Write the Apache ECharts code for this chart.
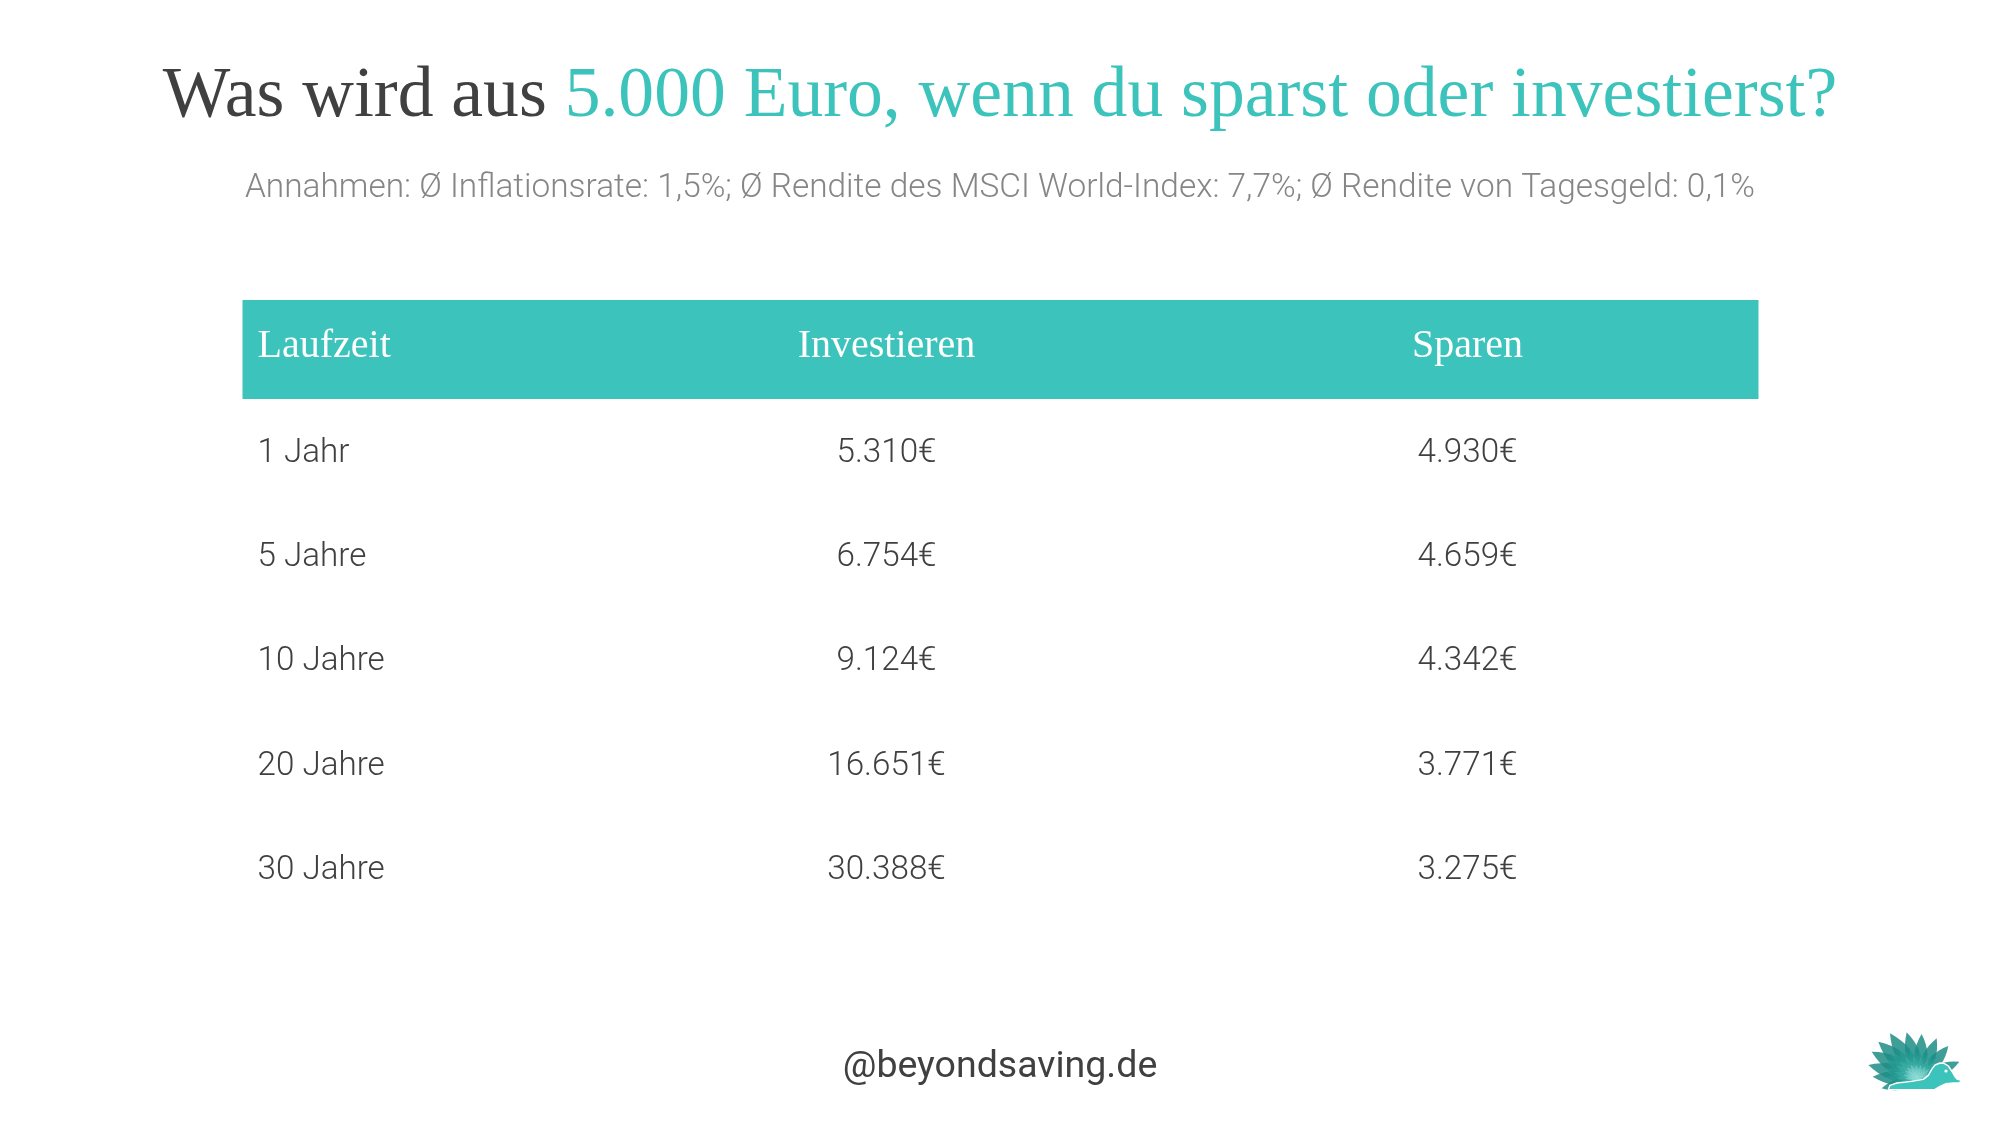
<!DOCTYPE html>
<html><head><meta charset="utf-8">
<style>html,body{margin:0;padding:0;background:#fff}#c{width:2000px;height:1125px}</style>
<script src="https://cdn.jsdelivr.net/npm/echarts@6/dist/echarts.min.js"></script>
</head><body><div id="c"></div>
<script>
const titleDark = 'Was wird aus ';
const titleTeal = '5.000 Euro, wenn du sparst oder investierst?';
const subtitle = 'Annahmen: Ø Inflationsrate: 1,5%; Ø Rendite des MSCI World-Index: 7,7%; Ø Rendite von Tagesgeld: 0,1%';
const footer = '@beyondsaving.de';
const columns = ['Laufzeit', 'Investieren', 'Sparen'];
const terms = ['1 Jahr', '5 Jahre', '10 Jahre', '20 Jahre', '30 Jahre'];
const invest = ['5.310€', '6.754€', '9.124€', '16.651€', '30.388€'];
const save = ['4.930€', '4.659€', '4.342€', '3.771€', '3.275€'];

const TEAL = '#3cc3bb', DARK = '#404040', GREY = '#868686';
const rows = ['header', ...terms];
const cells = [];
columns.forEach((c, i) => cells.push([i, 0, c]));
terms.forEach((t, r) => {
  cells.push([0, r + 1, t]);
  cells.push([1, r + 1, invest[r]]);
  cells.push([2, r + 1, save[r]]);
});

// hedgehog logo (decoration), in zoom-crop units scaled to page
const tips = [[125,235],[98,200],[85,165],[95,125],[115,95],[150,70],[200,67],[245,72],[290,85],[325,108],[358,155]];
const base = [240, 208];
const LX = 1840, LY = 1010, S = 1 / 3;
const P = (x, y) => [LX + x * S, LY + y * S];
function leaf(a, b, w) {
  const dx = b[0] - a[0], dy = b[1] - a[1];
  const nx = -dy * w, ny = dx * w, pts = [];
  const mx = a[0] + dx * 0.45, my = a[1] + dy * 0.45;
  for (let i = 0; i <= 10; i++) { const t = i / 10, u = 1 - t;
    pts.push(P(u*u*a[0] + 2*u*t*(mx+nx) + t*t*b[0], u*u*a[1] + 2*u*t*(my+ny) + t*t*b[1])); }
  for (let i = 9; i > 0; i--) { const t = i / 10, u = 1 - t;
    pts.push(P(u*u*a[0] + 2*u*t*(mx-nx) + t*t*b[0], u*u*a[1] + 2*u*t*(my-ny) + t*t*b[1])); }
  return pts;
}
const logo = [];
tips.forEach(t => {
  logo.push({ type: 'polygon', z: 5, shape: { points: leaf(base, t, 0.3) }, style: { fill: '#1d8d85', opacity: 0.85 } });
});
[0.72, 0.5, 0.32].forEach((k, j) => tips.forEach(t => {
  const t2 = [base[0] + (t[0]-base[0]) * k, base[1] + (t[1]-base[1]) * k];
  logo.push({ type: 'polygon', z: 6 + j, shape: { points: leaf(base, t2, 0.24) }, style: { fill: ['#2fa49b', '#48b8af', '#9be3dd'][j], opacity: 0.45 } });
}));
const bodyOutline = [[145,238],[150,226],[170,219],[215,214],[250,208],[265,196],[275,178],[285,165],[300,159],[312,160],[325,168],[335,183],[345,200],[352,208],[365,211],[358,219],[340,219],[318,221],[300,229],[285,238],[262,239]];
logo.push({ type: 'polygon', z: 10, shape: { points: bodyOutline.map(p => P(p[0], p[1])) },
  style: { fill: TEAL, stroke: '#fff', lineWidth: 1.4, lineJoin: 'round' } });
const eye = P(318, 183);
logo.push({ type: 'circle', z: 11, shape: { cx: eye[0], cy: eye[1], r: 1.6 }, style: { fill: '#fff' } });

const chart = echarts.init(document.getElementById('c'), null, { renderer: 'canvas' });
chart.setOption({
  animation: false,
  backgroundColor: '#fff',
  title: [
    { left: 'center', top: 56,
      text: `{a|${titleDark}}{b|${titleTeal}}`,
      textStyle: { fontWeight: 'normal', rich: {
        a: { fontFamily: 'Liberation Serif', fontWeight: 'normal', fontSize: 71.6, color: DARK },
        b: { fontFamily: 'Liberation Serif', fontWeight: 'normal', fontSize: 71.6, color: TEAL }
      } } },
    { left: 'center', top: 167, text: subtitle,
      textStyle: { fontFamily: 'Roboto', fontWeight: 300, fontSize: 33.4, color: GREY } },
    { left: 'center', top: 1044, text: footer,
      textStyle: { fontFamily: 'Roboto', fontWeight: 400, fontSize: 37.5, color: DARK } }
  ],
  grid: { left: 15.5, right: 241.5, top: 297.5, height: 625 },
  xAxis: { type: 'category', data: columns, show: false },
  yAxis: { type: 'category', data: rows, inverse: true, show: false },
  graphic: logo,
  series: [{
    type: 'custom',
    coordinateSystem: 'cartesian2d',
    data: cells,
    encode: { x: 0, y: 1 },
    renderItem(params, api) {
      const col = api.value(0), row = api.value(1), txt = cells[params.dataIndex][2];
      const p = api.coord([col, row]);
      const gridRect = params.coordSys;
      const isHead = row === 0;
      const x = col === 0 ? 257.5 : p[0] - 0.5;
      const text = { type: 'text', z2: 2, style: {
        x, y: p[1] + (isHead ? -3 : 0), text: txt,
        align: col === 0 ? 'left' : 'center', verticalAlign: 'middle',
        fontFamily: isHead ? 'Liberation Serif' : 'Roboto',
        fontWeight: isHead ? 400 : 300, fontSize: isHead ? 40 : 33.2,
        fill: isHead ? '#fff' : DARK } };
      if (isHead && col === 0) {
        return { type: 'group', children: [
          { type: 'rect', z2: 1, shape: { x: 242.5, y: 300, width: gridRect.x + gridRect.width - 242.5, height: 99 }, style: { fill: TEAL } },
          text ] };
      }
      return text;
    }
  }]
});
</script></body></html>
